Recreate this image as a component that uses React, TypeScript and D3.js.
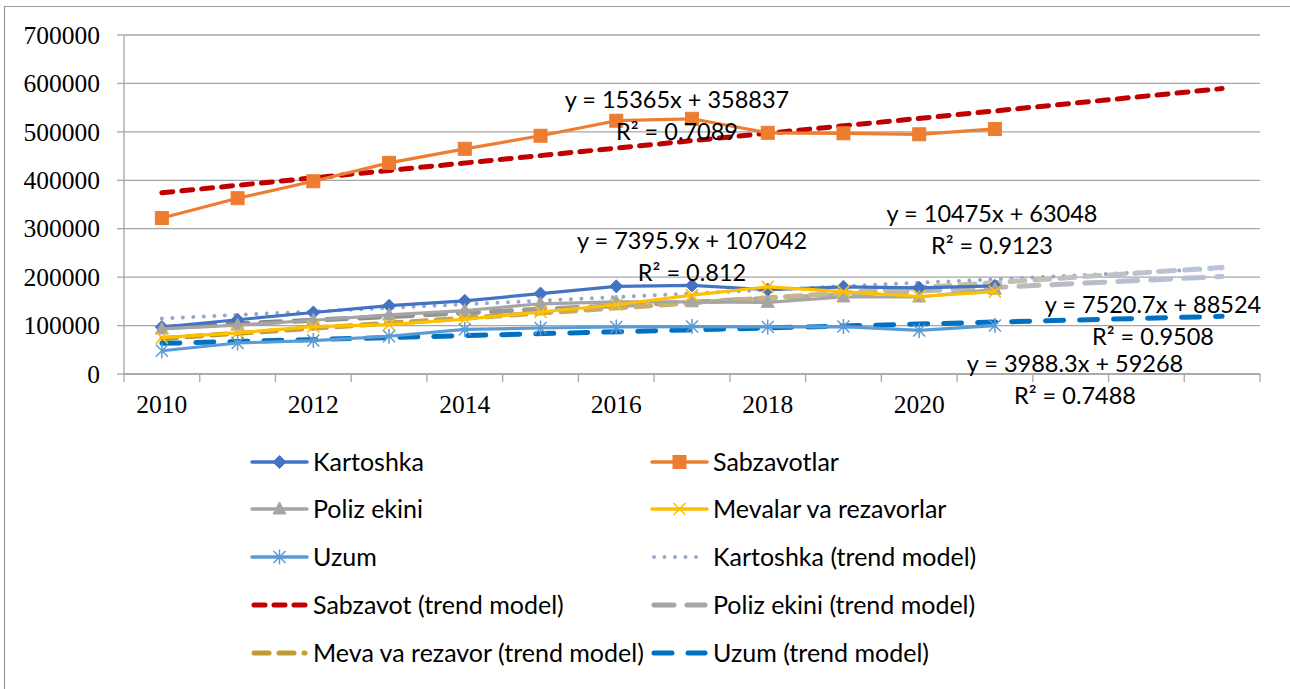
import React from 'react';
import * as d3 from 'd3';

// ---------- data ----------
const years = [2010, 2011, 2012, 2013, 2014, 2015, 2016, 2017, 2018, 2019, 2020, 2021];
const forecastPeriods = 3;
const yTicks = [0, 100000, 200000, 300000, 400000, 500000, 600000, 700000];

const kartoshka = [97000, 112000, 127000, 141000, 151000, 166000, 181000, 183000, 174000, 180000, 178000, 182000];
const sabzavotlar = [322000, 363000, 398000, 436000, 465000, 492000, 523000, 527000, 498000, 497000, 495000, 506000];
const poliz = [93000, 101000, 111000, 122000, 131000, 145000, 149000, 149000, 148000, 159000, 159000, 175000];
const mevalar = [75000, 85000, 98000, 102000, 113000, 128000, 143000, 163000, 180000, 170000, 160000, 170000];
const uzum = [48000, 64000, 69000, 78000, 92000, 95000, 97000, 98000, 97000, 98000, 90000, 100000];

// trendline coefficients (y = a*x + b), x = period index starting at 1
const trendNames = ['Kartoshka (trend model)', 'Sabzavot (trend model)', 'Poliz ekini (trend model)', 'Meva va rezavor (trend model)', 'Uzum (trend model)'];
const trendSlopes = [7395.9, 15365, 7520.7, 10475, 3988.3];
const trendIntercepts = [107042, 358837, 88524, 63048, 59268];
const trendR2 = ['0.812', '0.7089', '0.9508', '0.9123', '0.7488'];
const trendSlopeText = ['7395.9', '15365', '7520.7', '10475', '3988.3'];
const trendInterceptText = ['107042', '358837', '88524', '63048', '59268'];

const seriesNames = ['Kartoshka', 'Sabzavotlar', 'Poliz ekini', 'Mevalar va rezavorlar', 'Uzum'];

// ---------- layout / style ----------
const W = 1290, H = 689;
const P = { left: 124, right: 1260, top: 35, bottom: 374 };
const seriesColors = ['#4472c4', '#ed7d31', '#a5a5a5', '#ffc000', '#5b9bd5'];
const seriesMarkers = ['diamond', 'square', 'triangle', 'x', 'star'];

const trendStyles = [
  { stroke: '#97a6cb', width: 4, dash: '0 10.5', cap: 'round' },
  { stroke: '#c00000', width: 5, dash: '11 9', cap: 'round' },
  { stroke: 'url(#gPoliz)', width: 5, dash: '20 13', cap: 'round' },
  { stroke: 'url(#gMeva)', width: 5, dash: '15 10', cap: 'round' },
  { stroke: '#0070c0', width: 5, dash: '18 16', cap: 'round' },
];
// label placement (centers / baseline of first line)
const labelPos = [
  { x: 692, y: 249 },
  { x: 677, y: 108 },
  { x: 1153, y: 313 },
  { x: 992, y: 222 },
  { x: 1075, y: 372 },
];

const legendLeft = [
  { kind: 's', i: 0 }, { kind: 's', i: 2 }, { kind: 's', i: 4 }, { kind: 't', i: 1 }, { kind: 't', i: 3 },
];
const legendRight = [
  { kind: 's', i: 1 }, { kind: 's', i: 3 }, { kind: 't', i: 0 }, { kind: 't', i: 2 }, { kind: 't', i: 4 },
];
const legendRowsY = [462, 509, 557, 605, 653];

function Marker({ type, color, cx, cy }: { type: string; color: string; cx: number; cy: number }) {
  if (type === 'diamond') {
    const r = 6.5;
    return <path d={`M${cx},${cy - r}L${cx + r},${cy}L${cx},${cy + r}L${cx - r},${cy}Z`} fill={color} stroke={color} strokeWidth={1} />;
  }
  if (type === 'square') {
    const s = 6.5;
    return <rect x={cx - s} y={cy - s} width={2 * s} height={2 * s} fill={color} stroke={color} strokeWidth={1} />;
  }
  if (type === 'triangle') {
    return <path d={`M${cx},${cy - 7}L${cx + 6.5},${cy + 5}L${cx - 6.5},${cy + 5}Z`} fill={color} stroke={color} strokeWidth={1} />;
  }
  if (type === 'x') {
    const r = 6;
    return <path d={`M${cx - r},${cy - r}L${cx + r},${cy + r}M${cx - r},${cy + r}L${cx + r},${cy - r}`} stroke={color} strokeWidth={1.6} fill="none" />;
  }
  const r = 6;
  return <path d={`M${cx - r},${cy - r}L${cx + r},${cy + r}M${cx - r},${cy + r}L${cx + r},${cy - r}M${cx},${cy - r - 1.5}L${cx},${cy + r + 1.5}`} stroke={color} strokeWidth={1.5} fill="none" />;
}

export default function App() {
  const allData = [kartoshka, sabzavotlar, poliz, mevalar, uzum];
  const nCats = years.length + forecastPeriods;
  const x = d3.scaleBand<number>().domain(d3.range(nCats)).range([P.left, P.right]).paddingInner(0).paddingOuter(0);
  const cx = (i: number) => (x(i) as number) + x.bandwidth() / 2;
  const y = d3.scaleLinear().domain([0, 700000]).range([P.bottom, P.top]);
  const line = d3.line<number>().x((_, i) => cx(i)).y((d) => y(d));

  const trendPts = (k: number) => [1, nCats].map((p) => [cx(p - 1), y(trendSlopes[k] * p + trendIntercepts[k])] as [number, number]);
  const tline = d3.line();

  const tickXs = d3.range(nCats + 1).map((i) => P.left + i * x.bandwidth());

  const serif = '"Liberation Serif", "Times New Roman", serif';
  const sans = 'Lato, "Open Sans", sans-serif';

  const legendItem = (item: { kind: string; i: number }, row: number, col: number) => {
    const ly = legendRowsY[row];
    const x0 = col === 0 ? 252 : 652;
    const x1 = x0 + 55;
    const tx = col === 0 ? 313 : 713;
    let sample;
    let label;
    if (item.kind === 's') {
      const c = seriesColors[item.i];
      sample = (
        <g>
          <line x1={x0} x2={x1} y1={ly} y2={ly} stroke={c} strokeWidth={3.5} strokeLinecap="round" />
          <Marker type={seriesMarkers[item.i]} color={c} cx={(x0 + x1) / 2} cy={ly} />
        </g>
      );
      label = seriesNames[item.i];
    } else {
      const s = trendStyles[item.i];
      sample = <line x1={x0 + 2} x2={x1 - 2} y1={ly} y2={ly} stroke={s.stroke} strokeWidth={s.width} strokeDasharray={s.dash} strokeLinecap={s.cap as any} />;
      label = trendNames[item.i];
    }
    return (
      <g key={`${col}-${row}`}>
        {sample}
        <text x={tx} y={ly} dy="0.36em" fontFamily={sans} fontSize={25} fill="#000">{label}</text>
      </g>
    );
  };

  return (
    <div style={{ position: 'absolute', left: 0, top: 0 }}>
      <svg width={W} height={H} style={{ display: 'block', background: '#fff' }}>
        <defs>
          <linearGradient id="gPoliz" gradientUnits="userSpaceOnUse" x1={cx(0)} x2={cx(nCats - 1)} y1={0} y2={0}>
            <stop offset="0" stopColor="#7f7f7f" />
            <stop offset="0.45" stopColor="#a3a3a3" />
            <stop offset="0.75" stopColor="#b9b9b4" />
            <stop offset="1" stopColor="#b6c1de" />
          </linearGradient>
          <linearGradient id="gMeva" gradientUnits="userSpaceOnUse" x1={cx(0)} x2={cx(nCats - 1)} y1={0} y2={0}>
            <stop offset="0" stopColor="#bf9622" />
            <stop offset="0.45" stopColor="#c8ad6e" />
            <stop offset="0.75" stopColor="#c6bfa6" />
            <stop offset="1" stopColor="#bac3de" />
          </linearGradient>
        </defs>
        {/* chart frame */}
        <path d={`M4.5,${H}L4.5,6.5L${W},6.5`} fill="none" stroke="#9a9a9a" strokeWidth={1.2} />

        {/* gridlines */}
        {yTicks.map((t) => (
          <line key={`g${t}`} x1={P.left} x2={P.right} y1={y(t)} y2={y(t)} stroke="#a6a6a6" strokeWidth={1.3} />
        ))}
        {/* y axis */}
        <line x1={P.left} x2={P.left} y1={P.top} y2={P.bottom} stroke="#a6a6a6" strokeWidth={1.3} />
        {yTicks.map((t) => (
          <g key={`yt${t}`}>
            <line x1={P.left - 7} x2={P.left} y1={y(t)} y2={y(t)} stroke="#a6a6a6" strokeWidth={1.3} />
            <text x={100} y={y(t)} dy="0.34em" textAnchor="end" fontFamily={serif} fontSize={25.5} fill="#000">{t}</text>
          </g>
        ))}
        {/* x axis ticks */}
        {tickXs.map((tx, i) => (
          <line key={`xt${i}`} x1={tx} x2={tx} y1={P.bottom} y2={P.bottom + 8} stroke="#a6a6a6" strokeWidth={1.3} />
        ))}
        {years.map((yr, i) => (i % 2 === 0 ? (
          <text key={`xl${yr}`} x={cx(i)} y={413} textAnchor="middle" fontFamily={serif} fontSize={25.5} fill="#000">{yr}</text>
        ) : null))}

        {/* trendlines */}
        {trendStyles.map((s, k) => (
          <path key={`tr${k}`} d={tline(trendPts(k)) as string} fill="none" stroke={s.stroke} strokeWidth={s.width} strokeDasharray={s.dash} strokeLinecap={s.cap as any} />
        ))}

        {/* series */}
        {allData.map((data, k) => (
          <g key={`s${k}`}>
            <path d={line(data) as string} fill="none" stroke={seriesColors[k]} strokeWidth={3.2} strokeLinejoin="round" />
            {data.map((v, i) => (
              <Marker key={i} type={seriesMarkers[k]} color={seriesColors[k]} cx={cx(i)} cy={y(v)} />
            ))}
          </g>
        ))}

        {/* axis line over */}
        <line x1={P.left} x2={P.right} y1={P.bottom} y2={P.bottom} stroke="#a6a6a6" strokeWidth={1.3} />

        {/* trend labels */}
        {labelPos.map((p, k) => (
          <g key={`lab${k}`} fontFamily={sans} fontSize={23.5} fill="#000" textAnchor="middle">
            <text x={p.x} y={p.y}>{`y = ${trendSlopeText[k]}x + ${trendInterceptText[k]}`}</text>
            <text x={p.x} y={p.y + 32}>{`R² = ${trendR2[k]}`}</text>
          </g>
        ))}

        {/* legend */}
        {legendLeft.map((it, r) => legendItem(it, r, 0))}
        {legendRight.map((it, r) => legendItem(it, r, 1))}
      </svg>
    </div>
  );
}
